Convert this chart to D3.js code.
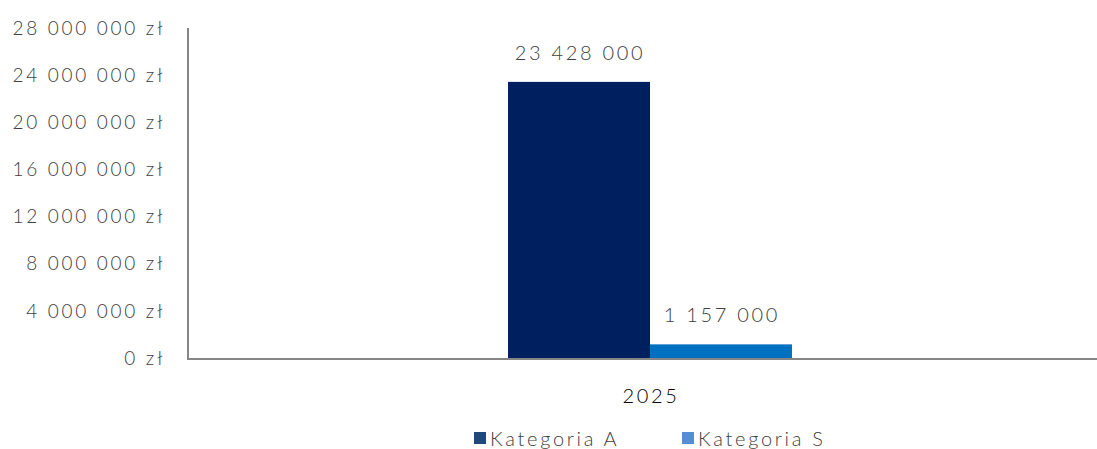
<!DOCTYPE html>
<html>
<head>
<meta charset="utf-8">
<script src="https://cdn.jsdelivr.net/npm/d3@7.9.0/dist/d3.min.js"></script>
<style>
  body { margin: 0; background: #fff; }
  svg { display: block; font-family: Lato, "Open Sans", sans-serif; font-weight: 300; letter-spacing: 2.7px; }
</style>
</head>
<body>
<svg width="1097" height="449"></svg>
<script>
const years = ['2025'];
const seriesNames = ['Kategoria A', 'Kategoria S'];
const valuesA = [23428000];
const valuesS = [1157000];
const yTicks = [0, 4000000, 8000000, 12000000, 16000000, 20000000, 24000000, 28000000];

const barColors = ['#001f5f', '#0070c0'];
const legendColors = ['#1f497d', '#558ed5'];

const pl = d3.formatLocale({ decimal: ',', thousands: '\u00a0', grouping: [3], currency: ['', ' zł'] });
const fmt = pl.format(',.0f');

const svg = d3.select('svg');
const plotTop = 28, plotBottom = 358, plotLeft = 188;

let y = d3.scaleLinear().domain([0, 28000000]).range([plotBottom, plotTop]);

let x0 = d3.scaleBand().domain(years).range([plotLeft, 1112]).paddingInner(0).paddingOuter(1.127);
let x1 = d3.scaleBand().domain(seriesNames).range([0, x0.bandwidth()]);

// y labels
svg.append('g')
    .selectAll('text')
    .data(yTicks)
    .join('text')
    .attr('x', 165)
    .attr('y', (d) => y(d))
    .attr('dy', '0.35em')
    .attr('text-anchor', 'end')
    .attr('font-size', 19)
    .attr('fill', '#404040')
    .text((d) => fmt(d) + ' zł');

let rows = years.map((yr, i) => ({ year: yr, vals: [valuesA[i], valuesS[i]] }));

let g = svg.append('g');
rows.forEach((row) => {
    row.vals.forEach((v, idx) => {
        let bx = x0(row.year) + x1(seriesNames[idx]);
        g.append('rect')
            .attr('x', bx)
            .attr('y', y(v))
            .attr('width', x1.bandwidth())
            .attr('height', plotBottom - y(v))
            .attr('fill', barColors[idx]);
        g.append('text')
            .attr('x', bx + x1.bandwidth() / 2 + 1)
            .attr('y', y(v) - 22)
            .attr('text-anchor', 'middle')
            .attr('font-size', 20)
            .attr('fill', '#404040')
            .text(fmt(v));
    });
    svg.append('text')
        .attr('x', x0(row.year) + x0.bandwidth() / 2 + 1)
        .attr('y', 403)
        .attr('text-anchor', 'middle')
        .attr('font-size', 20)
        .attr('fill', '#000')
        .text(row.year);
});

// axes lines
svg.append('line').attr('x1', plotLeft).attr('x2', plotLeft).attr('y1', plotTop).attr('y2', plotBottom + 1)
    .attr('stroke', '#868686').attr('stroke-width', 2);
svg.append('line').attr('x1', plotLeft - 1).attr('x2', 1097).attr('y1', plotBottom + 1).attr('y2', plotBottom + 1)
    .attr('stroke', '#868686').attr('stroke-width', 2);

// legend
const legendX = [474, 682];
seriesNames.forEach((name, idx) => {
    svg.append('rect')
        .attr('x', legendX[idx]).attr('y', 432)
        .attr('width', 12).attr('height', 12)
        .attr('fill', legendColors[idx]);
    svg.append('text')
        .attr('x', legendX[idx] + 16).attr('y', 446)
        .attr('font-size', 20)
        .attr('fill', '#404040')
        .text(name);
});
</script>
</body>
</html>
